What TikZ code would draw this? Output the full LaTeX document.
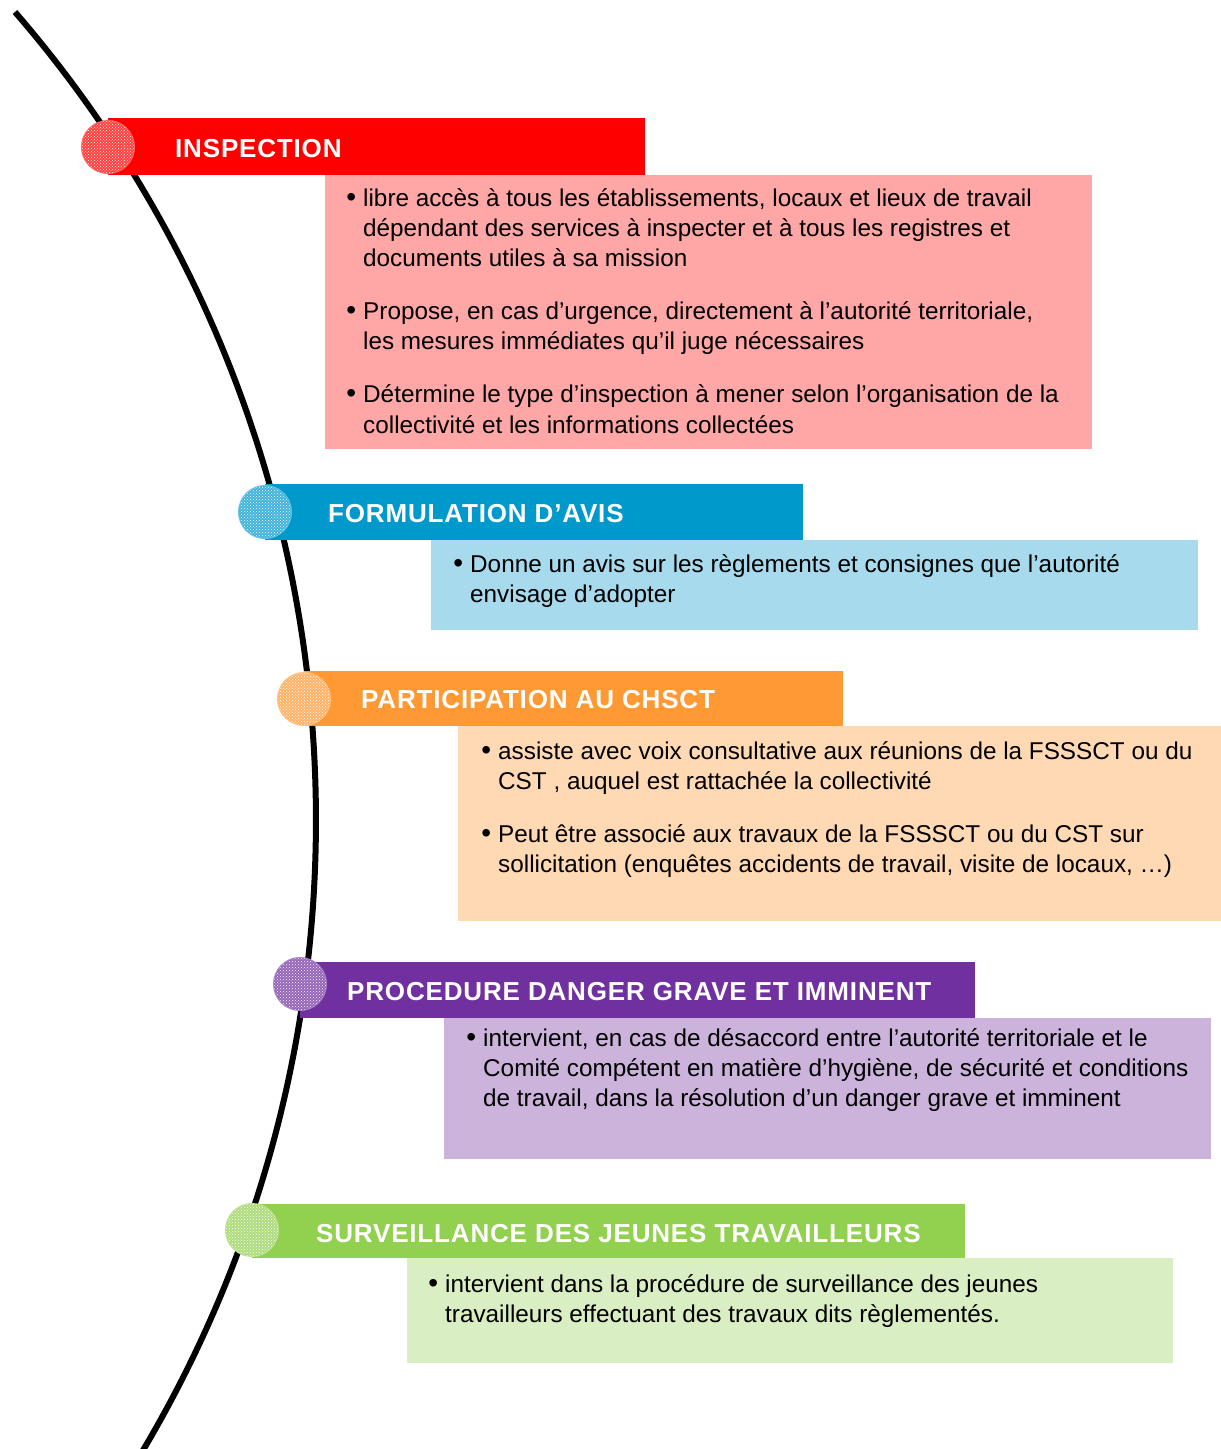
\documentclass[tikz,border=0pt]{standalone}
\usepackage{fontspec}
\setmainfont{Liberation Sans}
\usetikzlibrary{patterns}
\definecolor{cRed}{HTML}{FF0000}
\definecolor{cRedL}{HTML}{FFA6A6}
\definecolor{cBlue}{HTML}{0099CC}
\definecolor{cBlueL}{HTML}{A6DAEC}
\definecolor{cOra}{HTML}{FF9933}
\definecolor{cOraL}{HTML}{FFD9B3}
\definecolor{cPur}{HTML}{7030A0}
\definecolor{cPurL}{HTML}{CCB3DC}
\definecolor{cGre}{HTML}{92D050}
\definecolor{cGreL}{HTML}{D9EEC2}
\newcommand{\bitem}{\leavevmode\llap{\scalebox{1.15}{\textbullet}\hspace{7pt}}}
\tikzset{
  hdr/.style={anchor=west, inner sep=0pt, text=white,
    font=\fontsize{26}{26}\selectfont\bfseries\addfontfeature{LetterSpace=3.2}},
  bodytxt/.style={anchor=base west, inner sep=0pt, text=black,
    font=\fontsize{24.3}{30.3}\selectfont},
  spine/.style={line width=6pt, black},
}
\newcommand{\dotdisc}[3]{%
  \fill[#2!75!white] #1 circle[radius=26.5pt];
  \fill[pattern=crosshatch dots, pattern color=white] #1 circle[radius=26.5pt];
  \draw[#2!60!white, line width=1pt] #1 circle[radius=26.5pt];
  \coordinate (#3) at #1;
}
\begin{document}
\begin{tikzpicture}[x=1pt, y=-1pt]
\useasboundingbox (0,0) rectangle (1221,1449);
\fill[white] (0,0) rectangle (1221,1449);
% spine: arc of a circle centred at (-919,820), radius 1235
\coordinate (spinecentre) at (-919,820);
\coordinate (spinetop) at (15,12);
\begin{scope}
\clip (0,0) rectangle (1221,1449);
\draw[spine] (spinetop) arc[start angle=40.86, end angle=-32, radius=1235pt];
\end{scope}
% 1 INSPECTION
\fill[cRedL] (325,175) rectangle (1092,449);
\fill[cRed] (108,118) rectangle (645,175);
\dotdisc{(108,147)}{cRed}{c1}
\node[hdr] (h1) at (175,148.5) {INSPECTION};
\node[bodytxt] (b1) at (363,206) {\parbox[t]{760pt}{%
\bitem libre accès à tous les établissements, locaux et lieux de travail\\
dépendant des services à inspecter et à tous les registres et\\
documents utiles à sa mission\par\vspace{22.7pt}
\bitem Propose, en cas d’urgence, directement à l’autorité territoriale,\\
les mesures immédiates qu’il juge nécessaires\par\vspace{22.7pt}
\bitem Détermine le type d’inspection à mener selon l’organisation de la\\
collectivité et les informations collectées}};
% 2 FORMULATION
\fill[cBlueL] (431,540) rectangle (1198,630);
\fill[cBlue] (265,484) rectangle (803,540);
\dotdisc{(265,512)}{cBlue}{c2}
\node[hdr] (h2) at (328,514) {FORMULATION D’AVIS};
\node[bodytxt] (b2) at (470,572) {\parbox[t]{720pt}{%
\bitem Donne un avis sur les règlements et consignes que l’autorité\\
envisage d’adopter}};
% 3 PARTICIPATION
\fill[cOraL] (458,726) rectangle (1221,921);
\fill[cOra] (304,671) rectangle (843,726);
\dotdisc{(304,699)}{cOra}{c3}
\node[hdr] (h3) at (361,700) {PARTICIPATION AU CHSCT};
\node[bodytxt] (b3) at (498,759) {\parbox[t]{720pt}{%
\bitem assiste avec voix consultative aux réunions de la FSSSCT ou du\\
CST , auquel est rattachée la collectivité\par\vspace{22.7pt}
\bitem Peut être associé aux travaux de la FSSSCT ou du CST sur\\
sollicitation (enquêtes accidents de travail, visite de locaux, …)}};
% 4 PROCEDURE
\fill[cPurL] (444,1018) rectangle (1211,1159);
\fill[cPur] (300,962) rectangle (975,1018);
\dotdisc{(300,984)}{cPur}{c4}
\node[hdr] (h4) at (347,992) {PROCEDURE DANGER GRAVE ET IMMINENT};
\node[bodytxt] (b4) at (483,1046) {\parbox[t]{740pt}{%
\bitem intervient, en cas de désaccord entre l’autorité territoriale et le\\
Comité compétent en matière d’hygiène, de sécurité et conditions\\
de travail, dans la résolution d’un danger grave et imminent}};
% 5 SURVEILLANCE
\fill[cGreL] (407,1258) rectangle (1173,1363);
\fill[cGre] (252,1204) rectangle (965,1258);
\dotdisc{(252,1230)}{cGre}{c5}
\node[hdr] (h5) at (316,1234) {SURVEILLANCE DES JEUNES TRAVAILLEURS};
\node[bodytxt] (b5) at (445,1292) {\parbox[t]{720pt}{%
\bitem intervient dans la procédure de surveillance des jeunes\\
travailleurs effectuant des travaux dits règlementés.}};
\end{tikzpicture}
\end{document}
